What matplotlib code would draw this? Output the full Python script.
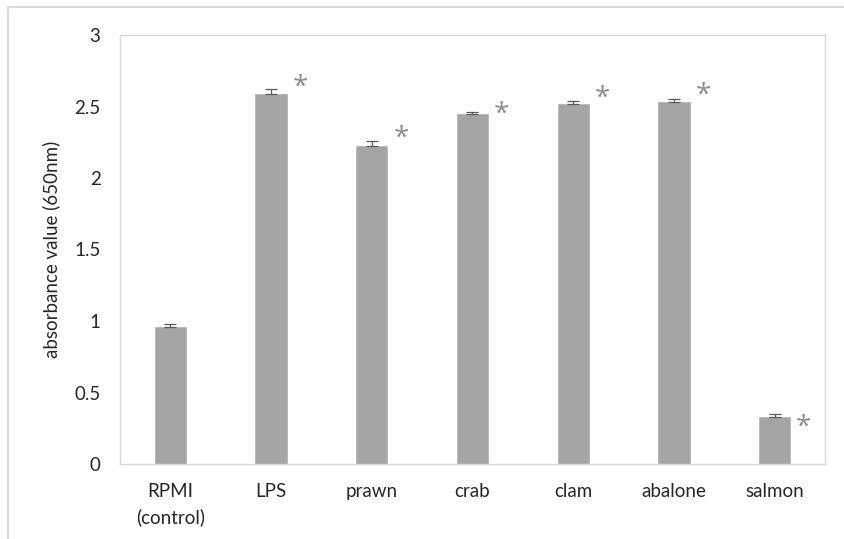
import matplotlib
matplotlib.use("Agg")
import matplotlib.pyplot as plt
from matplotlib.lines import Line2D

categories = ["RPMI\n(control)", "LPS", "prawn", "crab", "clam", "abalone", "salmon"]
values = [0.96, 2.585, 2.226, 2.445, 2.515, 2.531, 0.331]
errors = [0.017, 0.04, 0.035, 0.014, 0.023, 0.023, 0.021]
significant = [False, True, True, True, True, True, True]
star_y = [None, 2.665, 2.31, 2.48, 2.59, 2.61, 0.29]
y_ticks = [0, 0.5, 1, 1.5, 2, 2.5, 3]
y_tick_labels = ["0", "0.5", "1", "1.5", "2", "2.5", "3"]

W, H = 845, 539
fig = plt.figure(figsize=(W / 100, H / 100), dpi=100)
ax = fig.add_axes([120 / W, 1 - 464 / H, (825 - 120) / W, (464 - 35) / H])

font = ["Lato", "DejaVu Sans"]
star_font = ["Open Sans", "DejaVu Sans"]
fs = 13.5
x = list(range(len(categories)))
ax.bar(x, values, width=0.31, color="#a5a5a5", edgecolor="#b5b5b5", linewidth=0.6, zorder=2)
ax.errorbar(x, values, yerr=[[0] * len(errors), errors], fmt="none",
            ecolor="#595959", elinewidth=0.9, capsize=4, capthick=0.9, zorder=3)

star_fs = 20
for i, (sig, sy) in enumerate(zip(significant, star_y)):
    if sig:
        ax.annotate("*", xy=(i + 0.29, sy), xytext=(0, -0.436 * star_fs), textcoords="offset points",
                    fontsize=star_fs, color="#8c8c8c", ha="center", va="baseline", family=star_font)

ax.set_xlim(-0.5, len(categories) - 0.5)
ax.set_ylim(0, 3)
ax.set_yticks(y_ticks)
ax.set_yticklabels(y_tick_labels, family=font, fontsize=fs, color="#262626")
ax.set_xticks(x)
ax.set_xticklabels(categories, family=font, fontsize=fs, color="#262626", linespacing=1.5)
ax.tick_params(axis="both", length=0)
ax.tick_params(axis="y", pad=14)
ax.tick_params(axis="x", pad=14)
ax.set_ylabel("absorbance value (650nm)", family=font, fontsize=fs, color="#262626", labelpad=10)

for s in ax.spines.values():
    s.set_color("#d9d9d9")
    s.set_linewidth(1.0)

# outer chart frame (top and left edges)
fig.add_artist(Line2D([8 / W, 1], [1 - 7 / H, 1 - 7 / H], transform=fig.transFigure,
                      color="#d9d9d9", linewidth=1.5))
fig.add_artist(Line2D([8 / W, 8 / W], [0, 1 - 7 / H], transform=fig.transFigure,
                      color="#d9d9d9", linewidth=1.5))

fig.savefig("out.png", dpi=100)
